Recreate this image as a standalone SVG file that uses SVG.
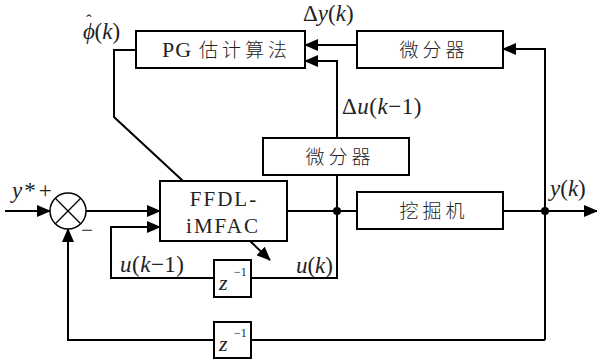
<svg xmlns="http://www.w3.org/2000/svg" width="597" height="361" viewBox="0 0 597 361">
<style>
.box{fill:#fff;stroke:#000;stroke-width:2}
.ln{fill:none;stroke:#000;stroke-width:2}
.cn{font-family:"Noto Sans CJK SC",sans-serif;font-size:19px;font-weight:300;fill:#222;letter-spacing:4px}
.lt{font-family:"Liberation Serif","DejaVu Serif",serif;font-size:21px;fill:#222}
.it{font-family:"Liberation Serif","DejaVu Serif",serif;font-size:23px;font-style:italic;fill:#222}
.rm{font-style:normal}
</style>
<defs>
<marker id="ah" markerUnits="userSpaceOnUse" markerWidth="14" markerHeight="12" refX="13" refY="6" orient="auto">
<path d="M0,0 L14,6 L0,12 Z" fill="#000"/>
</marker>
</defs>
<g id="connectors">
<path class="ln" d="M5,211 H50" marker-end="url(#ah)"/>
<path class="ln" d="M86,211 H160" marker-end="url(#ah)"/>
<path class="ln" d="M287,211 H357"/>
<path class="ln" d="M503,211 H597" marker-end="url(#ah)"/>
<path class="ln" d="M545,340 V49 H503" marker-end="url(#ah)"/>
<path class="ln" d="M357,45 H305" marker-end="url(#ah)"/>
<path class="ln" d="M337,138 V61 H305" marker-end="url(#ah)"/>
<path class="ln" d="M337,175 V278 H251"/>
<path class="ln" d="M214,278 H111 V227 H160" marker-end="url(#ah)"/>
<path class="ln" d="M545,340 H251"/>
<path class="ln" d="M214,340 H68 V229" marker-end="url(#ah)"/>
<path class="ln" d="M136,50 H114 V117 L183,181"/>
<path class="ln" d="M250,241 L270,260" marker-end="url(#ah)"/>
<circle cx="337" cy="211" r="4" fill="#000"/>
<circle cx="545" cy="211" r="4" fill="#000"/>
</g>
<g id="sum">
<circle cx="68" cy="211" r="18" fill="#fff" stroke="#000" stroke-width="1.5"/>
<path d="M55.3,198.3 L80.7,223.7 M80.7,198.3 L55.3,223.7" stroke="#000" stroke-width="1.3"/>
</g>
<g id="pg">
<rect class="box" x="136" y="31" width="169" height="37"/>
<text x="162" y="57" class="lt" style="font-size:22px;letter-spacing:1px">PG</text>
<text x="199" y="57" class="cn">估计算法</text>
</g>
<g id="diff1">
<rect class="box" x="357" y="31" width="146" height="37"/>
<text x="434" y="57" class="cn" text-anchor="middle">微分器</text>
</g>
<g id="diff2">
<rect class="box" x="263" y="138" width="146" height="37"/>
<text x="340" y="164" class="cn" text-anchor="middle">微分器</text>
</g>
<g id="ffdl">
<rect class="box" x="160" y="181" width="127" height="60"/>
<text x="224" y="206" class="lt" text-anchor="middle" style="letter-spacing:2px">FFDL-</text>
<text x="223" y="233" class="lt" text-anchor="middle" style="letter-spacing:2px">iMFAC</text>
</g>
<g id="plant">
<rect class="box" x="357" y="192" width="146" height="37"/>
<text x="434" y="218" class="cn" text-anchor="middle">挖掘机</text>
</g>
<g id="z1">
<rect class="box" x="214" y="260" width="37" height="37"/>
<text x="219" y="290" class="it" style="font-size:22px">z</text>
<text x="234" y="276" class="lt" style="font-size:12px">−1</text>
</g>
<g id="z2">
<rect class="box" x="214" y="322" width="37" height="36"/>
<text x="219" y="351" class="it" style="font-size:22px">z</text>
<text x="234" y="337" class="lt" style="font-size:12px">−1</text>
</g>
<g id="labels">
<text x="83" y="39" class="it">ϕ<tspan class="rm" dx="-9" dy="-13" style="font-size:17px">ˆ</tspan><tspan class="rm" dx="3" dy="13">(</tspan>k<tspan class="rm">)</tspan></text>
<text x="303" y="21" class="it"><tspan class="rm">Δ</tspan>y<tspan class="rm">(</tspan>k<tspan class="rm">)</tspan></text>
<text x="342" y="114" class="it" style="letter-spacing:0.5px"><tspan class="rm">Δ</tspan>u<tspan class="rm">(</tspan>k<tspan class="rm">−1)</tspan></text>
<text x="120" y="272" class="it" style="letter-spacing:0.5px">u<tspan class="rm">(</tspan>k<tspan class="rm">−1)</tspan></text>
<text x="333" y="273" class="it" text-anchor="end">u<tspan class="rm">(</tspan>k<tspan class="rm">)</tspan></text>
<text x="550" y="196" class="it">y<tspan class="rm">(</tspan>k<tspan class="rm">)</tspan></text>
<text x="12" y="198" class="it">y<tspan class="rm" dx="2">*</tspan><tspan class="rm" dx="3">+</tspan></text>
<text x="81" y="237" class="lt">−</text>
</g>
</svg>
